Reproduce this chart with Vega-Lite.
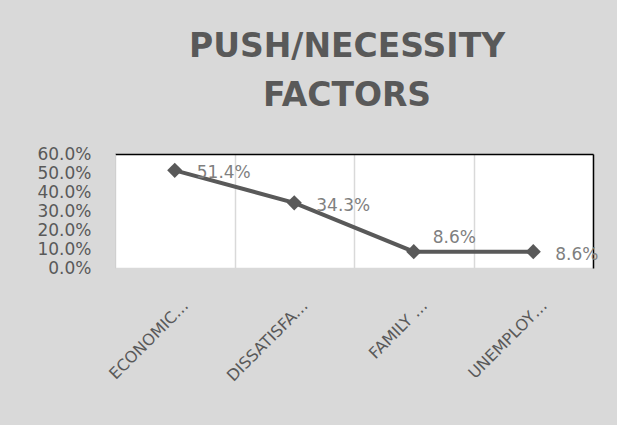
{
  "$schema": "https://vega.github.io/schema/vega-lite/v6.json",
  "autosize": "none",
  "width": 478,
  "height": 114,
  "padding": {"left": 115, "top": 154, "right": 24, "bottom": 157},
  "background": "#d9d9d9",
  "view": {"fill": "white", "stroke": null},
  "title": {
    "text": ["PUSH/NECESSITY", "FACTORS"],
    "font": "DejaVu Sans",
    "fontSize": 33,
    "fontWeight": "bold",
    "color": "#595959",
    "lineHeight": 49,
    "anchor": "middle",
    "dx": -7,
    "offset": 32
  },
  "data": {
    "values": [
      {"factor": "ECONOMIC…", "share": 0.514},
      {"factor": "DISSATISFA…", "share": 0.343},
      {"factor": "FAMILY …", "share": 0.086},
      {"factor": "UNEMPLOY…", "share": 0.086}
    ]
  },
  "encoding": {
    "x": {
      "field": "factor",
      "type": "nominal",
      "sort": null,
      "scale": {"type": "band", "paddingInner": 0, "paddingOuter": 0}
    },
    "y": {
      "field": "share",
      "type": "quantitative",
      "scale": {"domain": [0, 0.6], "nice": false}
    }
  },
  "layer": [
    {
      "mark": {"type": "line", "color": "#595959", "strokeWidth": 4},
      "encoding": {
        "x": {
          "field": "factor",
          "type": "nominal",
          "sort": null,
          "title": null,
          "axis": {
            "orient": "bottom",
            "grid": true,
            "gridColor": "#d9d9d9",
            "gridWidth": 1.5,
            "tickBand": "extent",
            "ticks": false,
            "domainColor": "#d9d9d9",
            "domainWidth": 1.5,
            "labelAngle": -45,
            "labelAlign": "right",
            "labelBaseline": "top",
            "labelFont": "DejaVu Sans",
            "labelFontSize": 16,
            "labelColor": "#595959",
            "labelPadding": 29,
            "labelOffset": 5,
            "labelLimit": 300
          }
        },
        "y": {
          "field": "share",
          "type": "quantitative",
          "title": null,
          "axis": {
            "orient": "left",
            "values": [0, 0.1, 0.2, 0.3, 0.4, 0.5, 0.6],
            "format": ".1%",
            "grid": false,
            "ticks": false,
            "domainColor": "#d0d0d0",
            "labelFont": "DejaVu Sans",
            "labelFontSize": 17,
            "labelColor": "#595959",
            "labelPadding": 24,
            "labelOverlap": false,
            "labelBound": false,
            "labelFlush": false
          }
        }
      }
    },
    {
      "mark": {"type": "point", "shape": "diamond", "filled": true, "opacity": 1, "color": "#595959", "size": 230},
      "encoding": {
        "x": {
          "field": "factor",
          "type": "nominal",
          "sort": null,
          "title": null,
          "axis": {"orient": "top", "labels": false, "ticks": false, "grid": false, "domainColor": "black", "domainWidth": 1.5}
        },
        "y": {
          "field": "share",
          "type": "quantitative",
          "title": null,
          "axis": {"orient": "right", "labels": false, "ticks": false, "grid": false, "domainColor": "black", "domainWidth": 1.5}
        }
      }
    },
    {
      "transform": [{"filter": "datum.factor != 'FAMILY …'"}],
      "mark": {"type": "text", "align": "left", "baseline": "middle", "dx": 22, "dy": 3, "font": "DejaVu Sans", "fontSize": 17, "color": "#7f7f7f"},
      "encoding": {
        "x": {"field": "factor", "type": "nominal", "sort": null, "axis": null},
        "y": {"field": "share", "type": "quantitative", "axis": null},
        "text": {"field": "share", "type": "quantitative", "format": ".1%"}
      }
    },
    {
      "transform": [{"filter": "datum.factor == 'FAMILY …'"}],
      "mark": {"type": "text", "align": "left", "baseline": "middle", "dx": 19, "dy": -14, "font": "DejaVu Sans", "fontSize": 17, "color": "#7f7f7f"},
      "encoding": {
        "x": {"field": "factor", "type": "nominal", "sort": null, "axis": null},
        "y": {"field": "share", "type": "quantitative", "axis": null},
        "text": {"field": "share", "type": "quantitative", "format": ".1%"}
      }
    }
  ],
  "resolve": {"axis": {"x": "independent", "y": "independent"}}
}
